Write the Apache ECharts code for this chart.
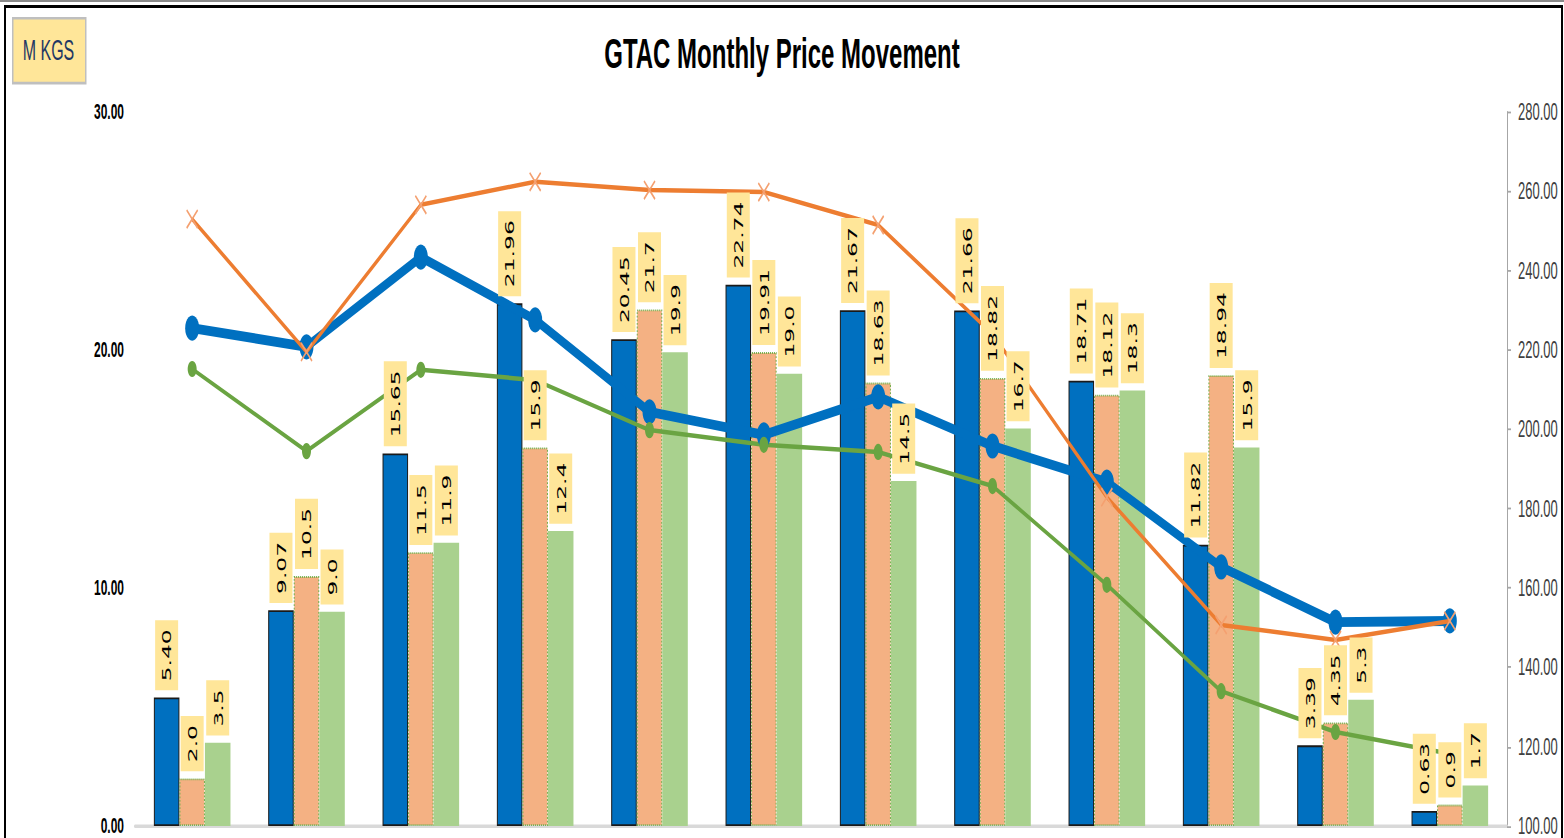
<!DOCTYPE html>
<html>
<head>
<meta charset="utf-8">
<script src="https://cdn.jsdelivr.net/npm/echarts@6/dist/echarts.min.js"></script>
<style>
html,body{margin:0;padding:0;width:1564px;height:838px;overflow:hidden;background:#fff;}
#topline{position:absolute;left:0;top:0;width:1564px;height:2px;background:#8a8a8a;}
#frame{position:absolute;left:4px;top:5px;width:1559px;height:900px;border:2px solid #000;border-top-width:3px;box-sizing:border-box;pointer-events:none;z-index:2;}
#chart{position:absolute;left:0;top:0;width:1564px;height:466px;transform:scaleY(1.8);transform-origin:0 0;}
</style>
</head>
<body>
<div id="topline"></div>
<div id="frame"></div>
<div id="chart"></div>
<script>
// ---- data ----
const categories = ['Jan','Feb','Mar','Apr','May','Jun','Jul','Aug','Sep','Oct','Nov','Dec'];
const blueBarText   = ['5.40','9.07','15.65','21.96','20.45','22.74','21.67','21.66','18.71','11.82','3.39','0.63'];
const orangeBarText = ['2.0','10.5','11.5','15.9','21.7','19.91','18.63','18.82','18.12','18.94','4.35','0.9'];
const greenBarText  = ['3.5','9.0','11.9','12.4','19.9','19.0','14.5','16.7','18.3','15.9','5.3','1.7'];
const blueLine   = [225.5, 220.8, 243.4, 227.6, 204.4, 198.6, 208.2, 195.8, 186.7, 165.3, 151.4, 151.7];
const orangeLine = [253.0, 219.5, 256.6, 262.4, 260.3, 259.8, 251.5, 224.0, 182.9, 150.7, 146.9, 151.7];
const greenLine  = [215.2, 194.5, 215.0, 212.4, 199.8, 196.1, 194.3, 185.7, 160.8, 134.0, 123.7, 118.2];
const leftTicks  = {min: 0, max: 30, interval: 10};
const rightTicks = {min: 100, max: 280, interval: 20};

const chart = echarts.init(document.getElementById('chart'), null, {renderer: 'svg', width: 1564, height: 466});

const barGapCfg = {barCategoryGap: '33%', barGap: '0%'};
function labelCfg(texts) {
  return {
    show: true, position: 'top', rotate: 90, align: 'left', verticalAlign: 'middle',
    distance: 4, fontFamily: 'DejaVu Sans', fontSize: 13, lineHeight: 15, color: '#000',
    backgroundColor: '#FFE699', padding: [4, 5],
    formatter: p => texts[p.dataIndex]
  };
}
const barDefs = [
  {name: 'Blue', texts: blueBarText, style: {color: '#0070C0', borderColor: '#1a1a1a', borderWidth: 1}},
  {name: 'Orange', texts: orangeBarText, style: {color: '#F4B183', borderColor: '#70AD47', borderWidth: 1, borderType: 'dotted'}},
  {name: 'Green', texts: greenBarText, style: {color: '#A9D18E'}}
];
const series = [];
barDefs.forEach(d => {
  series.push(Object.assign({
    name: d.name, type: 'bar', xAxisIndex: 0, yAxisIndex: 0, z: 2,
    data: d.texts.map(Number), itemStyle: d.style, label: {show: false}
  }, barGapCfg));
});
series.push({
  name: 'Blue Price', type: 'line', xAxisIndex: 0, yAxisIndex: 1, z: 3, data: blueLine,
  symbol: 'circle', symbolSize: 14, lineStyle: {color: '#0070C0', width: 5.5},
  itemStyle: {color: '#0070C0'}
});
series.push({
  name: 'Green Price', type: 'line', xAxisIndex: 0, yAxisIndex: 1, z: 3, data: greenLine,
  symbol: 'circle', symbolSize: 9, lineStyle: {color: '#6AA442', width: 2.5},
  itemStyle: {color: '#6AA442'}
});
series.push({
  name: 'Orange Price', type: 'line', xAxisIndex: 0, yAxisIndex: 1, z: 4, data: orangeLine,
  symbol: 'path://M0,1L1,0L6,5L11,0L12,1L7,6L12,11L11,12L6,7L1,12L0,11L5,6Z', symbolSize: [12, 11],
  lineStyle: {color: '#ED7D31', width: 2.5},
  itemStyle: {color: '#F4A070'}
});
// label layer (drawn above the lines, same bar layout on a hidden twin axis)
barDefs.forEach(d => {
  series.push(Object.assign({
    name: d.name + ' label', type: 'bar', xAxisIndex: 1, yAxisIndex: 0, z: 10, silent: true,
    data: d.texts.map(Number), itemStyle: {color: 'rgba(0,0,0,0)'}, label: labelCfg(d.texts)
  }, barGapCfg));
});

chart.setOption({
  animation: false,
  backgroundColor: 'transparent',
  title: {
    text: 'GTAC Monthly Price Movement', left: 'center', top: 17, padding: 0,
    textStyle: {fontFamily: 'Liberation Sans', fontWeight: 'bold', fontSize: 24, color: '#000'}
  },
  graphic: [
    {type: 'rect', left: 12, top: 9.4, shape: {width: 73, height: 36}, style: {fill: '#FFE699', stroke: '#BFBFBF', lineWidth: 1.5}},
    {type: 'text', x: 48.5, y: 27.6, style: {text: 'M KGS', font: '16px "Liberation Sans"', fill: '#1F3864', textAlign: 'center', textVerticalAlign: 'middle'}}
  ],
  grid: {left: 135, right: 57, top: 62.2, height: 396.7, containLabel: false},
  xAxis: [
    {type: 'category', data: categories, gridIndex: 0,
     axisLine: {show: true, lineStyle: {color: '#D9D9D9', width: 2}}, axisTick: {show: false}, axisLabel: {show: false}},
    {type: 'category', data: categories, gridIndex: 0, show: false}
  ],
  yAxis: [
    {type: 'value', position: 'left', min: leftTicks.min, max: leftTicks.max, interval: leftTicks.interval,
     axisLine: {show: false}, axisTick: {show: false}, splitLine: {show: false},
     axisLabel: {margin: 11, fontFamily: 'Liberation Sans', fontWeight: 'bold', fontSize: 12, color: '#000', formatter: v => v.toFixed(2)}},
    {type: 'value', position: 'right', min: rightTicks.min, max: rightTicks.max, interval: rightTicks.interval,
     axisLine: {show: true, lineStyle: {color: '#A6A6A6', width: 1}},
     axisTick: {show: true, length: 4, lineStyle: {color: '#A6A6A6'}}, splitLine: {show: false},
     axisLabel: {margin: 11, fontFamily: 'Liberation Sans', fontSize: 13, color: '#404040', formatter: v => v.toFixed(2)}}
  ],
  series: series
});
</script>
</body>
</html>
